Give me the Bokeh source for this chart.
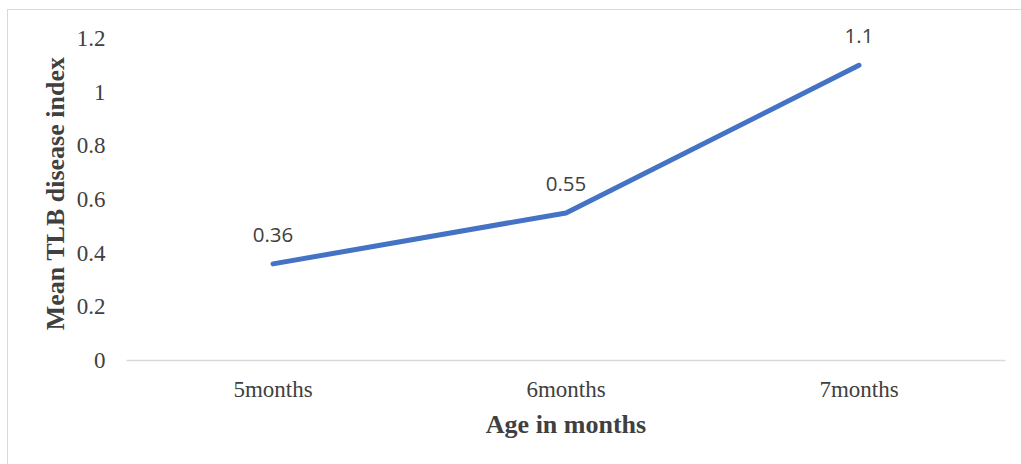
from bokeh.plotting import figure
from bokeh.models import ColumnDataSource, LabelSet, Range1d
from bokeh.core.properties import value
from bokeh.embed import file_html
from bokeh.resources import INLINE

categories = ["5months", "6months", "7months"]
values = [0.36, 0.55, 1.1]
value_labels = ["0.36", "0.55", "1.1"]
y_ticks = [0, 0.2, 0.4, 0.6, 0.8, 1.0, 1.2]
y_tick_labels = {0: "0", 0.2: "0.2", 0.4: "0.4", 0.6: "0.6", 0.8: "0.8", 1.0: "1", 1.2: "1.2"}
y_axis_max = 1.2

# layout (pixels, relative to the bordered chart area)
W, H = 1013, 454
frame_left, frame_right = 118, 997
frame_top, axis_top, frame_bottom = 16, 28, 350   # axis_top: where 1.2 sits
y_end = y_axis_max * (frame_bottom - frame_top) / (frame_bottom - axis_top)

src = ColumnDataSource(dict(x=categories, y=values, lab=value_labels))

p = figure(width=W, height=H, x_range=categories, y_range=Range1d(0, y_end),
           output_backend="svg", toolbar_location=None,
           min_border_left=frame_left, min_border_right=W - frame_right,
           min_border_top=frame_top, min_border_bottom=H - frame_bottom,
           margin=(10, 0, 0, 8))
p.styles = {"outline": "1.5px solid #d9d9d9"}
p.outline_line_color = None
p.background_fill_color = "white"
p.border_fill_color = "white"
p.xgrid.grid_line_color = None
p.ygrid.grid_line_color = None

p.line("x", "y", source=src, line_color="#4472C4", line_width=5, line_cap="round", line_join="round")

labels = LabelSet(x="x", y="y", text="lab", source=src, text_align="center", text_baseline="bottom",
                  y_offset=22, text_font=value("Open Sans"), text_font_size="20.5px", text_color="#404040")
p.add_layout(labels)

# x axis
p.xaxis.axis_line_color = "#d9d9d9"
p.xaxis.axis_line_width = 1.5
p.xaxis.major_tick_line_color = None
p.xaxis.minor_tick_line_color = None
p.xaxis.major_label_text_font = "Liberation Serif"
p.xaxis.major_label_text_font_size = "23px"
p.xaxis.major_label_text_color = "#404040"
p.xaxis.major_label_standoff = 10
p.xaxis.axis_label = "Age in months"
p.xaxis.axis_label_text_font = "Liberation Serif"
p.xaxis.axis_label_text_font_style = "bold"
p.xaxis.axis_label_text_font_size = "26px"
p.xaxis.axis_label_text_color = "#404040"
p.xaxis.axis_label_standoff = 5

# y axis
p.yaxis.ticker = y_ticks
p.yaxis.major_label_overrides = y_tick_labels
p.yaxis.axis_line_color = None
p.yaxis.major_tick_line_color = None
p.yaxis.minor_tick_line_color = None
p.yaxis.major_label_text_font = "Liberation Serif"
p.yaxis.major_label_text_font_size = "23px"
p.yaxis.major_label_text_color = "#404040"
p.yaxis.major_label_standoff = 15
p.yaxis.axis_label = "Mean TLB disease index"
p.yaxis.axis_label_text_font = "Liberation Serif"
p.yaxis.axis_label_text_font_style = "bold"
p.yaxis.axis_label_text_font_size = "26px"
p.yaxis.axis_label_text_color = "#404040"
p.yaxis.axis_label_standoff = 4

open("out.html", "w").write(file_html(p, INLINE))
